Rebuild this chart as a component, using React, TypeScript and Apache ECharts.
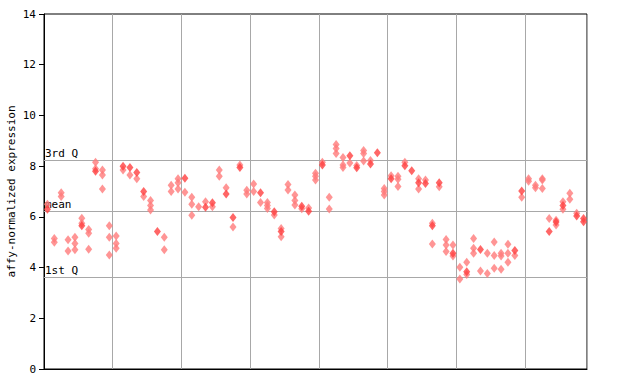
import React, { useEffect, useRef } from "react";
import * as echarts from "echarts";

// y-axis ticks
const yTicks = [0, 2, 4, 6, 8, 10, 12, 14];
// quartile reference lines
const quartileLabels = ["3rd Q", "mean", "1st Q"];
const quartileValues = [8.24, 6.22, 3.63];

// slots per group (sample columns)
const slotsPerGroup = 10;

// open (checkered) points per slot, per group
const g1Open = [[6.5], [5.15, 5.0], [6.95, 6.8], [5.1, 4.65], [5.2, 4.95, 4.7], [5.95, 5.75], [5.5, 5.35, 4.72], [8.15, 7.9], [7.85, 7.65, 7.1], [5.65, 5.2, 4.5]];
const g1Solid = [[6.3], [], [], [], [], [5.65], [], [7.8], [], []];
const g2Open = [[5.25, 4.95, 4.76], [7.85], [7.65], [7.5], [6.8], [6.65, 6.45, 6.27], [], [5.2, 4.7], [7.25, 7.0], [7.5, 7.35, 7.1]];
const g2Solid = [[], [8.0], [7.95], [7.75], [7.0], [], [5.42], [], [], []];
const g3Open = [[6.97], [6.77, 6.5, 6.06], [6.4], [6.6], [6.4], [7.85, 7.6], [7.15], [5.6], [8.05], [7.05, 6.9]];
const g3Solid = [[7.52], [], [], [6.38], [6.56], [], [6.9], [5.97], [7.95], []];
const g4Open = [[7.3, 7.0], [6.57], [6.57, 6.45, 6.33], [6.07], [5.54, 5.22], [7.28, 7.06], [6.86, 6.65, 6.47], [6.32], [6.35], [7.72, 7.6, 7.45]];
const g4Solid = [[], [6.95], [], [6.2], [5.42], [], [], [6.42], [6.22], []];
const g5Open = [[8.15], [6.77, 6.31], [8.85, 8.7, 8.5], [8.34, 8.05, 7.95], [8.12], [8.03], [8.62, 8.5, 8.2], [8.22], [], [7.12, 7.0, 6.86]];
const g5Solid = [[8.05], [], [], [], [8.41], [7.94], [], [8.08], [8.53], []];
const g6Open = [[7.62], [7.6, 7.48, 7.2], [8.15], [], [7.5, 7.1], [7.45], [5.75, 4.93], [7.19], [5.11, 4.89, 4.63], [4.89, 4.46]];
const g6Solid = [[7.5], [], [8.02], [7.82], [7.35], [7.32], [5.65], [7.35], [], [4.56]];
const g7Open = [[4.01, 3.55], [4.21, 3.73], [5.15, 4.76, 4.56], [3.86], [4.56, 3.77], [5.01, 4.48, 3.97], [4.56, 4.46, 3.93], [4.92, 4.56, 4.21], [4.48], [6.77]];
const g7Solid = [[], [3.84], [], [4.71], [], [], [], [], [4.67], [7.02]];
const g8Open = [[7.5, 7.4], [7.25, 7.15], [7.5, 7.45, 7.12], [5.94], [5.87, 5.68], [6.6, 6.3], [6.93, 6.69], [6.14], []];
const g8Solid = [[], [], [], [5.42], [5.8], [6.45], [], [6.03], [5.94, 5.81]];

const openGroups = [g1Open, g2Open, g3Open, g4Open, g5Open, g6Open, g7Open, g8Open];
const solidGroups = [g1Solid, g2Solid, g3Solid, g4Solid, g5Solid, g6Solid, g7Solid, g8Solid];

const totalSlots = openGroups.reduce((n, g) => n + g.length, 0);

function toPoints(groups: number[][][]): number[][] {
  const pts: number[][] = [];
  groups.forEach((g, gi) => {
    g.forEach((vals, si) => {
      vals.forEach((v) => pts.push([gi * slotsPerGroup + si + 0.5, v]));
    });
  });
  return pts;
}

const FONT = "DejaVu Sans Mono";

export default function App() {
  const ref = useRef<HTMLDivElement>(null);
  useEffect(() => {
    if (!ref.current) return;
    const chart = echarts.init(ref.current, undefined, { renderer: "svg" });
    chart.setOption({
      animation: false,
      backgroundColor: "#ffffff",
      grid: {
        left: 44,
        top: 14,
        width: 543,
        height: 355,
        show: true,
        borderColor: "#000000",
        borderWidth: 1,
        backgroundColor: "transparent",
        containLabel: false,
        outerBoundsMode: "none",
      },
      xAxis: {
        type: "value",
        min: 0,
        max: totalSlots,
        interval: slotsPerGroup,
        axisLine: { show: true, lineStyle: { color: "#000", width: 1 } },
        axisTick: { show: false },
        axisLabel: { show: false },
        splitLine: { show: true, lineStyle: { color: "#a8a8a8", width: 1 } },
      },
      yAxis: {
        type: "value",
        min: yTicks[0],
        max: yTicks[yTicks.length - 1],
        interval: 2,
        name: "affy-normalized expression",
        nameLocation: "middle",
        nameGap: 27,
        nameMoveOverlap: false,
        nameTextStyle: { fontFamily: FONT, fontSize: 11, color: "#000" },
        axisLine: { show: true, lineStyle: { color: "#000", width: 1 } },
        axisTick: { show: true, inside: false, length: 5, lineStyle: { color: "#000" } },
        axisLabel: { fontFamily: FONT, fontSize: 11, color: "#000", margin: 8 },
        splitLine: { show: false },
      },
      series: [
        {
          type: "scatter",
          symbol: "diamond",
          symbolSize: [7, 9],
          itemStyle: { color: "#ff7a7a" },
          data: toPoints(openGroups),
          z: 3,
          markLine: {
            silent: true,
            symbol: "none",
            lineStyle: { color: "#a8a8a8", type: "solid", width: 1 },
            label: {
              show: true,
              position: "insideStartTop",
              distance: [1, 1],
              fontFamily: FONT,
              fontSize: 11,
              color: "#000",
              formatter: (p: any) => p.name,
            },
            data: quartileValues.map((v, i) => ({ yAxis: v, name: quartileLabels[i] })),
            z: 1,
          },
        },
        {
          type: "scatter",
          symbol: "diamond",
          symbolSize: [7, 9],
          itemStyle: { color: "#ff4040" },
          data: toPoints(solidGroups),
          z: 4,
        },
      ],
    });
    return () => chart.dispose();
  }, []);
  return (
    <div
      ref={ref}
      style={{ position: "absolute", left: 0, top: 0, width: 640, height: 384 }}
    />
  );
}
